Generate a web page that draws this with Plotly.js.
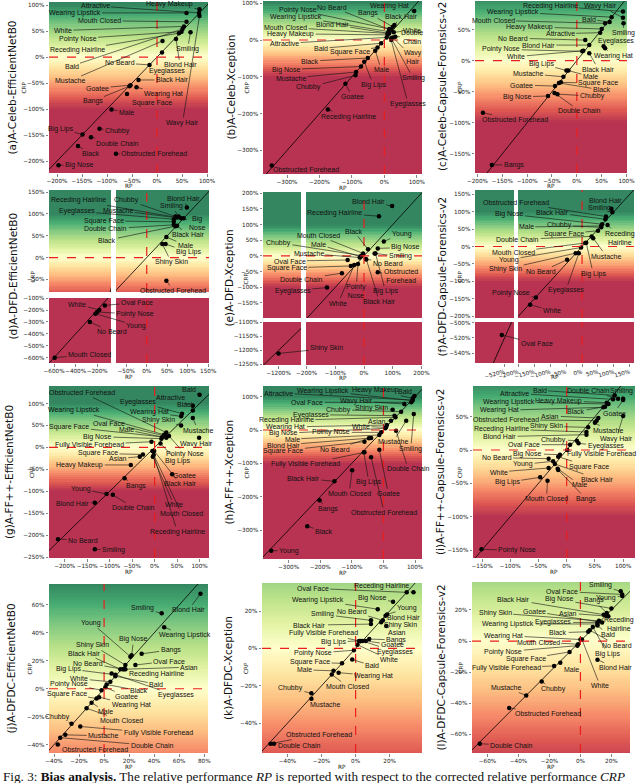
<!DOCTYPE html>
<html>
<head>
<meta charset="utf-8">
<script src="https://cdn.plot.ly/plotly-3.0.1.min.js"></script>
<style>body{margin:0;background:#fff}#plot{width:640px;height:783px}</style>
</head>
<body>
<div id="plot"></div>
<script>
// ---- data: RP (x) and CRP (y) in %, one set per model / dataset ----
var aNames = ['Attractive','Heavy Makeup','Wearing Lipstick','Mouth Closed','White','Pointy Nose','Receding Hairline','Bald','No Beard','Mustache','Eyeglasses','Blond Hair','Smiling','Wavy Hair','Black Hair','Goatee','Wearing Hat','Bangs','Square Face','Male','Chubby','Big Lips','Double Chain','Black','Obstructed Forehead','Big Nose'];
var aRP  = [84,85,59,59,54,49,44,51,-15,11,10,38,67,85,-37,-53,-41,-55,-60,-91,-115,-149,-132,-158,-82,-197];
var aCRP = [85,92,85,68,59,49,46,54,-15,31,9,35,48,79,-44,-54,-58,-56,-71,-101,-138,-149,-154,-171,-186,-208];

var bNames = ['Wearing Hat','Pointy Nose','No Beard','Wearing Lipstick','Black Hair','Bangs','Mouth Closed','Blond Hair','White','Heavy Makeup','Double<br>Chain','Attractive','Wavy<br>Hair','Smiling','Eyeglasses','Bald','Square Face','Male','Black','Big Lips','Big Nose','Mustache','Chubby','Goatee','Receding Hairline','Obstructed Forehead'];
var bRP  = [92,15,21,13,31,26,10,15,29,10,34,7,26,21,21,-10,-21,-28,-51,-62,-72,-87,-89,-120,-174,-347];
var bCRP = [79,30,27,23,41,36,18,18,21,14,9,7,7,5,0,-9,-20,-29,-49,-59,-72,-87,-96,-119,-189,-341];

var cNames = ['Receding Hairline','Wavy Hair','Wearing Lipstick','Bald','Mouth Closed','Smiling','Heavy Makeup','Attractive','No Beard','Eyeglasses','Blond Hair','Pointy Nose','White','Wearing Hat','Black Hair','Big Lips','Male','Mustache','Square Face','Black','Goatee','Chubby','Big Nose','Double Chain','Obstructed Forehead','Bangs'];
var cRP  = [93,93,70,66,57,94,50,47,17,54,25,11,13,57,25,-21,-17,-27,-32,-36,-44,-39,-58,-45,-189,-171];
var cCRP = [79,69,70,62,60,60,51,45,33,23,25,15,16,20,12,-16,-16,-26,-35,-36,-41,-54,-57,-52,-84,-168];

var dNames = ['Blond Hair','Smiling','Chubby','Receding Hairline','Mustache','Big<br>Nose','Eyeglasses','Square Face','Double Chain','Black Hair','Black','Male','Big Lips','Shiny Skin','Obstructed Forehead','Oval Face','White','Pointy Nose','Young','No Beard','Mouth Closed'];
var dRP  = [98,78,70,74,84,90,66,66,66,74,70,48,46,38,48,-129,-181,-200,-216,-268,-594];
var dCRP = [115,94,94,92,90,90,88,82,75,73,72,47,31,31,-53,-161,-200,-217,-231,-300,-600];

var eNames = ['Blond Hair','Receding Hairline','Young','Black','Mouth Closed','Big Nose','Chubby','Male','Mustache','Smiling','Oval Face','No Beard','Square Face','Obstructed<br>Forehead','Double Chain','Eyeglasses','Pointy<br>Nose','White','Black Hair','Big Lips','Shiny Skin'];
var eRP  = [98,52,69,14,-3,48,-9,-12,-15,37,-57,6,-46,48,-77,-129,-21,-34,8,40,-1200];
var eCRP = [159,127,46,21,8,24,1,-2,-5,8,-13,-10,-32,-52,-55,-101,-26,-29,-11,8,-1211];

var fNames = ['Blond Hair','Smiling','Obstructed Forehead','Black Hair','Big Nose','Receding<br>Hairline','Male','Chubby','Square Face','Double Chain','Mustache','Mouth Closed','Young','Shiny Skin','No Beard','Big Lips','Eyeglasses','Pointy Nose','White','Oval Face'];
var fRP  = [92,95,75,73,63,80,60,60,50,30,35,10,-3,-20,-47,13,-10,-145,-163,-528];
var fCRP = [108,98,86,78,64,62,59,55,45,29,24,10,-3,-19,-38,11,-19,-146,-167,-516];

var gNames = ['Bald','Attractive','Black','Obstructed Forehead','Eyeglasses','Wearing Hat','Wearing Lipstick','Shiny Skin','Mustache','Oval Face','Square Face','Male','Big Nose','Wavy Hair','Fully Visible Forehead','Pointy Nose','Big Lips','Square Face','Asian','Heavy Makeup','Goatee','Black Hair','Bangs','Young','Double Chain','White','Blond Hair','Mouth Closed','Receding Hairline','No Beard','Smiling'];
var gRP  = [100,85,85,26,61,59,21,59,85,24,17,26,15,99,-7,32,13,-26,-33,-53,39,-1,-67,-107,-93,-4,-133,-2,-5,-215,-133];
var gCRP = [120,95,84,34,77,71,29,50,67,26,24,22,20,22,13,26,9,-16,-21,-40,-61,-8,-70,-106,-108,-21,-126,-17,-8,-209,-232];

var hNames = ['Bald','Heavy Makeup','Wearing Lipstick','Attractive','Wavy Hair','Oval Face','Shiny Skin','Chubby','Eyeglasses','Receding Hairline','Asian','Wearing Hat','White','Big Nose','Pointy Nose','Male','Mustache','Blond Hair','Square Face','No Beard','Smiling','Fully Visible Forehead','Double Chain','Big Lips','Goatee','Mouth Closed','Obstructed Forehead','Black Hair','Bangs','Black','Young'];
var hRP  = [98,93,91,93,66,88,29,56,35,38,24,11,8,6,-7,-13,72,-39,-60,-46,96,-60,40,-62,-13,-99,-39,-155,-202,-241,-355];
var hCRP = [102,95,88,90,78,83,61,55,43,38,28,15,8,5,-7,-15,28,-24,-35,-25,48,-67,-2,-67,-59,-121,-82,-154,-211,-289,-362];

var iNames = ['Bald','Double Chain','Smiling','Attractive','Heavy Makeup','Wearing Lipstick','Goatee','Wearing Hat','Black','Asian','Obstructed Forehead','Mustache','Shiny Skin','Wavy Hair','Receding Hairline','Blond Hair','Chubby','Oval Face','Eyeglasses','Fully Visible Forehead','Big Nose','No Beard','Square Face','Young','White','Black Hair','Male','Big Lips','Bangs','Mouth Closed','Pointy Nose'];
var iRP  = [85,91,100,82,71,74,100,65,68,56,53,50,38,100,35,35,18,6,21,1,-12,-32,-15,-24,-32,-21,-16,-47,-15,-34,-151];
var iCRP = [82,77,77,76,71,69,75,64,65,48,44,41,34,51,27,23,14,8,10,0,-7,-13,-10,-17,-27,-21,-28,-41,-30,-46,-149];

var jNames = ['Blond Hair','Smiling','Wearing Lipstick','Young','Big Nose','Bangs','Shiny Skin','Oval Face','Black Hair','Asian','No Beard','Receding Hairline','Big Lips','Bald','White','Eyeglasses','Black','Pointy Nose','Goatee','Square Face','Wearing Hat','Male','Mouth Closed','Chubby','Fully Visible Forehead','Mustache','Double Chain','Obstructed Forehead'];
var jRP  = [77,46,48,21,22,30,17,25,13,17,15,16,9,9,5,6,2,-2,1,-6,-4,-10,-14,-26,-19,-31,-35,-37];
var jCRP = [68,54,44,23,24,25,17,17,14,14,14,14,10,9,5,11,3,-1,1,-7,-6,-10,-14,-25,-27,-33,-35,-40];

var kNames = ['Oval Face','Receding Hairline','Big Nose','Wearing Lipstick','Young','No Beard','Blond Hair','Smiling','Shiny Skin','Black Hair','Asian','Fully Visible Forehead','Bangs','Big Lips','Goatee','Eyeglasses','Pointy Nose','White','Bald','Square Face','Wearing Hat','Male','Mouth Closed','Chubby','Mustache','Obstructed Forehead','Double Chain'];
var kRP  = [30,34,22,13,18.5,16,17.6,9,15,9,18,2,8,3,6,4,-1,1,-2,-8,-10,-13,-14,-26,-26,-50,-48];
var kCRP = [30,30,25,21,18.2,15,17.5,15,14,13,12,4,5,4,4,4,-1,2,-6,-8,-13,-12,-14,-24,-27,-51,-51];

var lNames = ['Smiling','Oval Face','Young','Black Hair','Big Nose','Bangs','Shiny Skin','Goatee','Asian','Receding<br>Hairline','Wearing Lipstick','Eyeglasses','Bald','Black','Wearing Hat','No Beard','Big Lips','Mouth Closed','Blond Hair','Pointy Nose','White','Square Face','Fully Visible Forehead','Male','Chubby','Mustache','Obstructed Forehead','Double Chain'];
var lRP  = [26,27,27,15,20,17,12,14,18,17,11,11,11,5,0,6,8,-1.5,11,-2,1,-7,-17,-13,-25,-35,-46,-65];
var lCRP = [32,30,29,17,21,18,13,12,16,16,11,12,10,6,1,7,9,-2,-12,-3,1,-7,-16,-14,-26,-35,-43,-66];

// tick values (%)
var ticks50 = [-250,-200,-150,-100,-50,0,50,100,150,200];
var ticks100 = [-300,-200,-100,0,100,200];
var ticks20 = [-60,-40,-20,0,20,40,60,80];
var ticksDx = [-600,-400,-200];
var ticksDy = [-600,-500,-400,-300,-200,-100];
var ticksEx = [-1200];
var ticksEy = [-1250,-1200,-1150,-1100];
var ticksFx = [-520];
var ticksFy = [-540,-520,-500];

// ---- label placement: pixel offset of each label from its point ----
var aOff = [[-104,-7],[-30,-5],[-112,0],[-87,-1],[-121,4],[-104,7],[-102,17],[-111,37],[-30,-2],[-93,40],[5,19],[4,26],[-3,17],[-17,107],[34,0],[-33,3],[27,7],[-37,15],[25,9],[15,3],[18,2],[-22,-6],[26,6],[13,8],[38,0],[21,0]];
var bOff = [[-25,-5],[-91,-19],[-59,-23],[-93,-15],[7,-8],[-25,-14],[-102,-6],[-57,-9],[18,-2],[-97,-1],[17,0],[-102,6],[20,20],[22,40],[17,64],[-60,5],[-28,5],[6,19],[-58,3],[9,23],[-75,3],[-65,6],[-47,12],[7,13],[21,7],[34,4]];
var cOff = [[-73,-6],[-23,-12],[-99,-5],[-21,-3],[-112,-3],[0,10],[-72,-2],[-40,1],[-72,-2],[12,-5],[-51,0],[-81,-2],[-67,6],[8,8],[9,16],[-25,-7],[22,6],[-35,-3],[37,1],[43,7],[-33,-1],[35,2],[-31,1],[25,18],[32,7],[22,0]];
var dOff = [[-3,-9],[-7,-11],[-49,-17],[-99,-17],[-63,-8],[13,5],[-97,-8],[-70,-1],[-68,4],[11,9],[-68,14],[19,8],[23,8],[9,18],[7,10],[32,-3],[-22,-6],[38,2],[41,12],[22,10],[35,-3]];
var eOff = [[-24,-5],[-44,-3],[18,-8],[-14,-18],[-45,-18],[28,-1],[-83,-13],[-42,-12],[-51,-4],[26,3],[-58,1],[22,4],[-64,2],[23,4],[-40,6],[-34,3],[-2,27],[-16,38],[13,42],[10,38],[48,-5]];
var fOff = [[-6,-8],[-13,-4],[-90,-14],[-53,-7],[-93,-10],[12,13],[-75,1],[-42,-2],[-34,3],[-74,3],[13,18],[-72,9],[-72,12],[-70,16],[-26,12],[7,31],[-13,37],[-25,-4],[22,6],[35,9]];
var gOff = [[-11,-5],[-22,-8],[-7,-6],[-84,-40],[-44,-12],[-32,-4],[-90,-25],[-23,-5],[5,12],[-56,-13],[-93,-10],[-40,-8],[-64,-2],[-3,6],[-62,3],[16,18],[17,18],[-45,-1],[-22,2],[-51,0],[12,1],[26,33],[11,8],[-26,-5],[21,13],[21,48],[-22,1],[28,59],[25,81],[25,1],[19,1]];
var hOff = [[-9,-5],[-37,-8],[-89,-10],[-134,-7],[-48,-3],[-104,0],[-21,-2],[-63,-2],[-84,-1],[-109,3],[-14,1],[-101,2],[-25,-1],[-102,5],[-50,0],[-87,4],[-13,21],[-88,7],[-81,9],[-34,11],[-3,35],[-59,12],[12,38],[5,30],[9,44],[-3,23],[13,55],[-31,-3],[8,9],[17,5],[18,0]];
var iOff = [[-75,-5],[-30,-8],[-2,-8],[-98,-6],[-48,-2],[-99,-2],[-9,13],[-104,3],[-29,5],[-48,-2],[-91,-1],[13,8],[-42,-1],[-7,23],[-85,-3],[-87,2],[-23,-1],[-46,0],[27,3],[34,4],[-32,-1],[-52,-1],[31,10],[-30,3],[-50,4],[43,15],[22,16],[-33,5],[28,29],[-1,18],[36,1]];
var jOff = [[-12,16],[-19,-5],[21,8],[-39,-34],[2,-16],[29,-4],[-33,-20],[34,-4],[-36,-16],[64,-2],[-35,-6],[32,5],[-47,-6],[41,8],[-31,-3],[64,22],[32,6],[-33,-6],[21,9],[-30,-5],[32,8],[14,9],[35,12],[-14,-7],[78,7],[38,1],[92,8],[37,5]];
var kOff = [[-94,-4],[-32,-6],[-21,-4],[-60,-9],[20,-6],[-31,-9],[18,2],[-48,-6],[19,3],[-61,1],[11,7],[-36,-8],[27,1],[-27,1],[27,4],[33,11],[-41,3],[32,15],[20,6],[-32,-1],[35,3],[-29,-1],[16,12],[-21,-5],[14,6],[48,-9],[26,2]];
var lOff = [[-20,-6],[-60,-3],[-16,2],[-90,-15],[-52,-9],[-13,-13],[-104,-8],[-68,-11],[-40,-3],[12,8],[-89,0],[-44,0],[11,9],[-30,1],[-77,-4],[27,15],[15,27],[-40,-2],[18,8],[-74,6],[18,46],[-44,7],[-48,2],[11,7],[12,8],[-20,-8],[39,6],[32,2]];

// matplotlib RdYlGn at alpha 0.8 on white
var rdylgn = [[0,'rgb(183,51,81)'],[0.1,'rgb(223,89,82)'],[0.2,'rgb(246,138,105)'],[0.3,'rgb(253,190,129)'],[0.4,'rgb(254,230,162)'],[0.5,'rgb(255,255,204)'],[0.6,'rgb(225,242,162)'],[0.7,'rgb(184,225,136)'],[0.8,'rgb(133,202,130)'],[0.9,'rgb(72,173,115)'],[1,'rgb(51,134,95)']];

// xs / ys: [pixel start, pixel end, range min, range max, ticks]
var panels = [
  {title:'(a)A-Celeb-EfficientNetB0', tx:11, cx:23, c:100, d:[aNames,aRP,aCRP,aOff],
   xs:[[49,208,-216,102,ticks50]], ys:[[2,173,-223,106,ticks50]]},
  {title:'(b)A-Celeb-Xception', tx:230, cx:246, c:100, d:[bNames,bRP,bCRP,bOff],
   xs:[[263,422,-374,116,ticks100]], ys:[[1,174,-364,106,ticks100]]},
  {title:'(c)A-Celeb-Capsule-Forensics-v2', tx:442, cx:460, c:100, d:[cNames,cRP,cCRP,cOff],
   xs:[[475,627,-205,101,ticks50]], ys:[[1,173,-181,96,ticks50]]},
  {title:'(d)A-DFD-EfficientNetB0', tx:13, cx:33, c:100, d:[dNames,dRP,dCRP,dOff],
   xs:[[49,111,-647,-72,ticksDx],[116,209,-75,152,ticks50]], ys:[[190,292,-79,155,ticks50],[298,363,-645,-99,ticksDy]]},
  {title:'(e)A-DFD-Xception', tx:228, cx:245, c:100, d:[eNames,eRP,eCRP,eOff],
   xs:[[263,301,-1254,-1122,ticksEx],[306,422,-202,202,ticks100]], ys:[[192,318,-198,204,ticks50],[322,365,-1252,-1099,ticksEy]]},
  {title:'(f)A-DFD-Capsule-Forensics-v2', tx:442, cx:460, c:100, xang:-15, d:[fNames,fRP,fCRP,fOff],
   xs:[[475,514,-607,-492,ticksFx],[518,634,-201,163,ticks50]], ys:[[190,318,-205,162,ticks50],[322,363,-553,-499,ticksFy]]},
  {title:'(g)A-FF++-EfficientNetB0', tx:9, cx:32, c:100, d:[gNames,gRP,gCRP,gOff],
   xs:[[49,209,-235,121,ticks50]], ys:[[386,558,-252,140,ticks50]]},
  {title:'(h)A-FF++-Xception', tx:228, cx:246, c:100, d:[hNames,hRP,hCRP,hOff],
   xs:[[263,422,-381,122,ticks100]], ys:[[386,559,-387,132,ticks100]]},
  {title:'(i)A-FF++-Capsule-Forensics-v2', tx:440, cx:460, c:100, d:[iNames,iRP,iCRP,iOff],
   xs:[[473,635,-166,121,ticks50]], ys:[[386,558,-162,96,ticks50]]},
  {title:'(j)A-DFDC-EfficientNetB0', tx:10, cx:29, c:75, d:[jNames,jRP,jCRP,jOff],
   xs:[[49,208,-44,83,ticks20]], ys:[[584,753,-46,75,ticks20]]},
  {title:'(k)A-DFDC-Xception', tx:228, cx:246, c:70, d:[kNames,kRP,kCRP,kOff],
   xs:[[262,422,-55,39,ticks20]], ys:[[583,753,-56,35,ticks20]]},
  {title:'(l)A-DFDC-Capsule-Forensics-v2', tx:440, cx:460, c:80, d:[lNames,lRP,lCRP,lOff],
   xs:[[472,630,-70,32,ticks20]], ys:[[582,753,-72,38,ticks20]]}
];

var W = 640, H = 783;
var tickFont = {family:'DejaVu Sans', size:5.7, color:'#222'};
var labFont = {family:'Liberation Sans Narrow, Liberation Sans, Arial', size:7, color:'#111'};
var traces = [], shapes = [], notes = [];
var layout = {
  width:W, height:H, margin:{l:0,r:0,t:0,b:0}, showlegend:false, hovermode:false,
  paper_bgcolor:'white', plot_bgcolor:'rgba(0,0,0,0)'
};

function pct(v) { return (v < 0 ? '\u2212' : '') + Math.abs(v) + '%'; }

function txt(x, y, s, size, angle, fam) {
  notes.push({xref:'paper', yref:'paper', x:x/W, y:1-y/H, xanchor:'center', yanchor:'middle',
    text:s, showarrow:false, textangle:angle || 0,
    font:{family:fam || 'DejaVu Sans', size:size, color:'#111'}});
}

function axis(dom, rng, anchor, tv, ang) {
  return {domain:dom, range:rng, anchor:anchor, tickmode:'array', tickvals:tv, ticktext:tv.map(pct),
    ticks:'outside', ticklen:2.5, tickwidth:0.6, tickcolor:'#333', showgrid:false, zeroline:false,
    showline:false, tickfont:tickFont, tickangle:ang || 0, fixedrange:true};
}

var k = 0;
panels.forEach(function(p) {
  var subs = [];
  p.ys.forEach(function(ya, j) {
    p.xs.forEach(function(xa, i) {
      k++;
      var xn = k == 1 ? 'x' : 'x' + k, yn = k == 1 ? 'y' : 'y' + k;
      var sfx = k == 1 ? '' : k;
      layout['xaxis' + sfx] = axis([xa[0]/W, xa[1]/W], [xa[2], xa[3]], yn, j == p.ys.length - 1 ? xa[4] : [], p.xang);
      layout['yaxis' + sfx] = axis([1 - ya[1]/H, 1 - ya[0]/H], [ya[2], ya[3]], xn, i == 0 ? ya[4] : []);
      // gradient background coloured by CRP level
      var yy = [], zz = [];
      for (var s = 0; s <= 80; s++) {
        var v = ya[2] + (ya[3] - ya[2]) * s / 80;
        yy.push(v); zz.push([v, v]);
      }
      traces.push({type:'heatmap', x:[xa[2], xa[3]], y:yy, z:zz, xaxis:xn, yaxis:yn,
        colorscale:rdylgn, zmin:-p.c, zmax:p.c, showscale:false, hoverinfo:'skip'});
      // y = x reference
      var lo = Math.min(xa[2], ya[2]), hi = Math.max(xa[3], ya[3]);
      traces.push({type:'scatter', mode:'lines', x:[lo, hi], y:[lo, hi], xaxis:xn, yaxis:yn,
        line:{color:'black', width:0.8}, hoverinfo:'skip'});
      var red = {color:'rgb(235,30,30)', width:1.2, dash:'dash'};
      if (xa[2] < 0 && xa[3] > 0)
        shapes.push({type:'line', xref:xn, yref:yn + ' domain', x0:0, x1:0, y0:0, y1:1, line:red});
      if (ya[2] < 0 && ya[3] > 0)
        shapes.push({type:'line', xref:xn + ' domain', yref:yn, x0:0, x1:1, y0:0, y1:0, line:red});
      subs.push({xn:xn, yn:yn, xr:[xa[2], xa[3]], yr:[ya[2], ya[3]]});
    });
  });

  var names = p.d[0], rp = p.d[1], crp = p.d[2], off = p.d[3];
  subs.forEach(function(s) {
    var px = [], py = [];
    rp.forEach(function(x, i) {
      var y = crp[i];
      if (x < s.xr[0] || x > s.xr[1] || y < s.yr[0] || y > s.yr[1]) return;
      px.push(x); py.push(y);
      notes.push({xref:s.xn, yref:s.yn, x:x, y:y, text:names[i], showarrow:true,
        arrowhead:0, arrowwidth:0.6, arrowcolor:'#111', standoff:0,
        ax:off[i][0], ay:off[i][1], font:labFont});
    });
    traces.push({type:'scatter', mode:'markers', x:px, y:py, xaxis:s.xn, yaxis:s.yn,
      marker:{color:'black', size:4.5}, hoverinfo:'skip', cliponaxis:false});
  });

  // titles
  var x0 = p.xs[0][0], x1 = p.xs[p.xs.length - 1][1];
  var y0 = p.ys[0][0], y1 = p.ys[p.ys.length - 1][1];
  txt(p.tx, (y0 + y1) / 2, p.title, 10.5, -90);
  txt(p.cx, (y0 + y1) / 2, 'CRP', 5.7, -90);
  txt((x0 + x1) / 2, y1 + 13.5, 'RP', 5.7, 0);
});

notes.push({xref:'paper', yref:'paper', x:1/W, y:1 - 776/H, xanchor:'left', yanchor:'middle', showarrow:false,
  text:'Fig. 3: <b>Bias analysis.</b> The relative performance <i>RP</i> is reported with respect to the corrected relative performance <i>CRP</i>',
  font:{family:'Liberation Serif', size:13.2, color:'#111'}});

layout.shapes = shapes;
layout.annotations = notes;
Plotly.newPlot('plot', traces, layout, {staticPlot:true});
</script>
</body>
</html>
